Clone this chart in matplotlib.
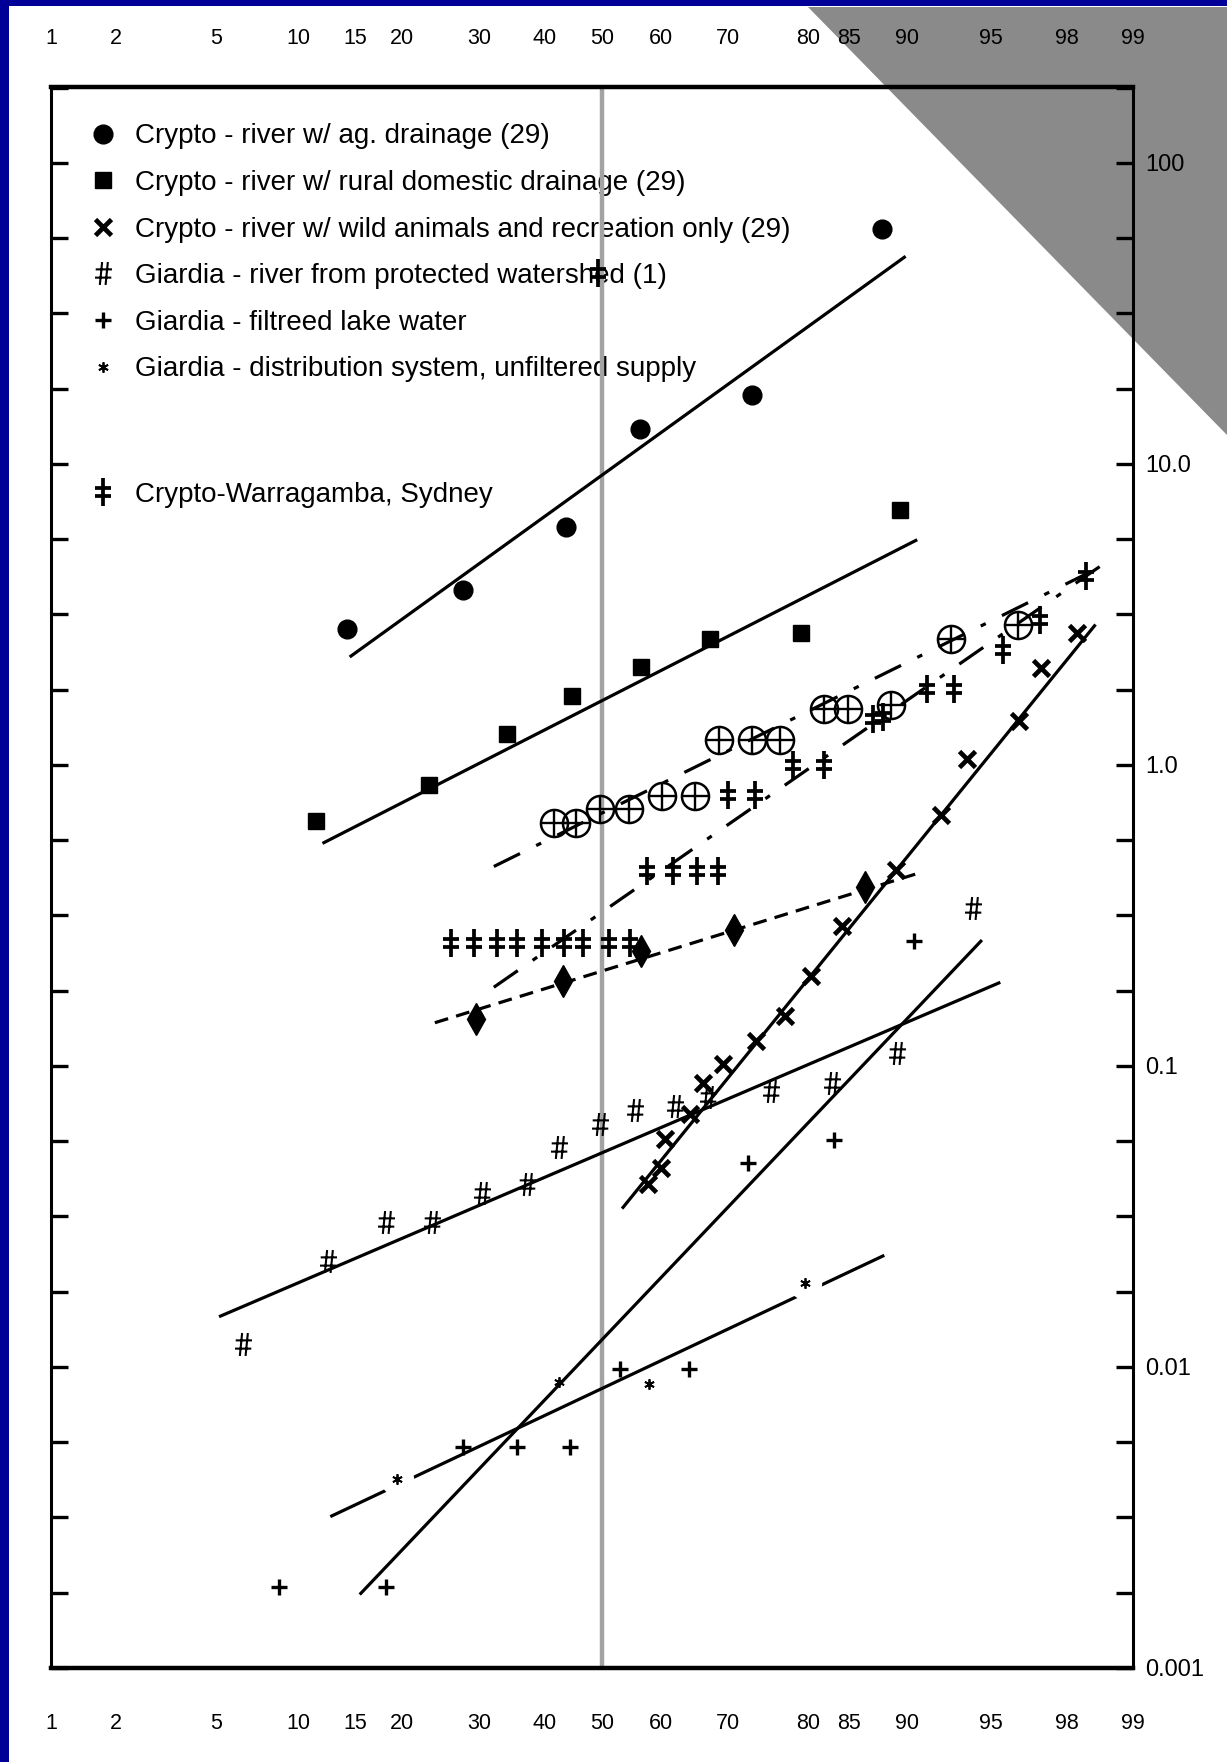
import numpy as np
import matplotlib
matplotlib.use("Agg")
import matplotlib.pyplot as plt
from matplotlib.path import Path
from matplotlib.patches import Polygon, Rectangle
from matplotlib.lines import Line2D
from statistics import NormalDist

plt.rcParams['font.family'] = ['Liberation Sans', 'DejaVu Sans']
plt.rcParams['lines.scale_dashes'] = False

# ------------------------------------------------------------------ data
# x = cumulative probability (%), y = concentration (organisms / L)
crypto_ag_p = [14.2, 27.7, 43.7, 56.4, 73.2, 88.0]
crypto_ag_v = [2.83, 3.82, 6.18, 13.1, 17.0, 60.3]
crypto_ag_fit_p = [14.6, 89.8]
crypto_ag_fit_v = [2.30, 48.6]

crypto_rural_p = [11.4, 23.3, 34.1, 44.7, 56.6, 67.4, 79.2, 89.5]
crypto_rural_v = [0.650, 0.855, 1.27, 1.70, 2.11, 2.62, 2.75, 7.03]
crypto_rural_fit_p = [12.1, 90.65]
crypto_rural_fit_v = [0.552, 5.57]

crypto_wild_p = [57.9, 60.0, 60.6, 64.5, 66.4, 69.35, 73.8, 77.3, 80.4, 84.25,
                 89.16, 92.32, 93.86, 96.36, 97.23, 98.19]
crypto_wild_v = [0.0404, 0.0459, 0.0573, 0.0693, 0.0878, 0.1014, 0.1207, 0.146,
                 0.1986, 0.2915, 0.448, 0.682, 1.048, 1.402, 2.10, 2.74]
crypto_wild_fit_p = [53.6, 98.49]
crypto_wild_fit_v = [0.0339, 2.90]

giardia_river_p = [6.38, 12.43, 18.24, 23.68, 30.49, 37.18, 42.35, 49.6, 55.6,
                   62.2, 67.1, 75.6, 83.08, 89.25, 94.15]
giardia_river_v = [0.0119, 0.02245, 0.0303, 0.0303, 0.0379, 0.0404, 0.0537, 0.0640,
                   0.0714, 0.0738, 0.0786, 0.0824, 0.0878, 0.1104, 0.3355]
giardia_river_fit_p = [5.21, 95.42]
giardia_river_fit_v = [0.01476, 0.1887]

giardia_lake_p = [8.62, 18.24, 27.75, 35.58, 44.41, 53.04, 64.35, 72.69, 83.31, 90.49]
giardia_lake_v = [0.00186, 0.00186, 0.00541, 0.00541, 0.00541, 0.00983, 0.00983,
                  0.0476, 0.0569, 0.2593]
giardia_lake_fit_p = [15.57, 94.53]
giardia_lake_fit_v = [0.00177, 0.2597]

giardia_dist_p = [19.38, 42.43, 58.07, 79.69]
giardia_dist_v = [0.00424, 0.00894, 0.00880, 0.01897]
giardia_dist_on_fit = [True, False, False, True]
giardia_dist_fit_p = [12.79, 88.09]
giardia_dist_fit_v = [0.0032, 0.02337]

diamond_p = [29.63, 43.15, 56.7, 70.83, 86.5]
diamond_v = [0.1432, 0.1921, 0.2411, 0.2819, 0.3923]
diamond_fit_p = [24.0, 90.84]
diamond_fit_v = [0.1392, 0.4369]

oplus_p = [41.59, 45.33, 49.58, 54.65, 60.19, 65.19, 68.79, 73.23, 76.76, 82.12,
           84.86, 88.8, 92.94, 96.31]
oplus_v = [0.6395, 0.6395, 0.7115, 0.7115, 0.7896, 0.7896, 1.214, 1.214, 1.214,
           1.539, 1.539, 1.580, 2.62, 2.924]
oplus_fit_p = [32.15, 98.67]
oplus_fit_v = [0.4599, 4.655]

warragamba_p = [26.16, 29.25, 32.68, 35.65, 39.56, 43.36, 46.68, 51.21, 54.8,
                57.67, 61.93, 65.51, 68.58, 70.05, 73.63, 78.33, 82.01, 87.22,
                88.07, 91.45, 93.13, 95.65, 97.18, 98.35, 49.28]
warragamba_v = [0.257, 0.257, 0.257, 0.257, 0.257, 0.257, 0.257, 0.257, 0.257,
                0.445, 0.445, 0.445, 0.445, 0.793, 0.793, 1.001, 1.001, 1.420,
                1.448, 1.783, 1.783, 2.417, 3.035, 4.233, 42.97]
warragamba_fit_p = [32.15, 98.67]
warragamba_fit_v = [0.1826, 4.73]

legend_labels = ["Crypto - river w/ ag. drainage (29)",
                 "Crypto - river w/ rural domestic drainage (29)",
                 "Crypto - river w/ wild animals and recreation only (29)",
                 "Giardia - river from protected watershed (1)",
                 "Giardia - filtreed lake water",
                 "Giardia - distribution system, unfiltered supply"]
legend_label_sydney = "Crypto-Warragamba, Sydney"

x_tick_vals = [1, 2, 5, 10, 15, 20, 30, 40, 50, 60, 70, 80, 85, 90, 95, 98, 99]
x_tick_labels = [str(v) for v in x_tick_vals]
y_tick_vals = [0.001, 0.01, 0.1, 1.0, 10.0, 100.0]
y_tick_labels = ["0.001", "0.01", "0.1", "1.0", "10.0", "100"]

# ------------------------------------------------- probability-paper scale
# relative tick positions of the printed probability paper (calibration)
paper_pos = np.array([51, 116, 216, 298, 355, 402, 479, 545, 602, 661, 728,
                      808, 849, 907, 991, 1067, 1133], float)
_nd = NormalDist()
Z_T = np.array([_nd.inv_cdf(v / 100.0) for v in x_tick_vals])
U_T = (paper_pos - paper_pos[0]) / (paper_pos[-1] - paper_pos[0])
S0 = (U_T[1] - U_T[0]) / (Z_T[1] - Z_T[0])
S1 = (U_T[-1] - U_T[-2]) / (Z_T[-1] - Z_T[-2])
_ppf = np.vectorize(_nd.inv_cdf, otypes=[float])
_cdf = np.vectorize(_nd.cdf, otypes=[float])


def prob_fwd(p):
    p = np.clip(np.asarray(p, float) / 100.0, 1e-12, 1 - 1e-12)
    z = _ppf(p)
    u = np.interp(z, Z_T, U_T)
    u = np.where(z < Z_T[0], U_T[0] + (z - Z_T[0]) * S0, u)
    u = np.where(z > Z_T[-1], U_T[-1] + (z - Z_T[-1]) * S1, u)
    return u


def prob_inv(u):
    u = np.asarray(u, float)
    z = np.interp(u, U_T, Z_T)
    z = np.where(u < U_T[0], Z_T[0] + (u - U_T[0]) / S0, z)
    z = np.where(u > U_T[-1], Z_T[-1] + (u - U_T[-1]) / S1, z)
    return 100.0 * _cdf(z)


# ------------------------------------------------------------ markers
MV, LT = Path.MOVETO, Path.LINETO
DDAG = Path([(0, -1), (0, 1), (-0.6, 0.28), (0.6, 0.28), (-0.6, -0.28), (0.6, -0.28)],
            [MV, LT, MV, LT, MV, LT])
HASH = Path([(-0.32, -1), (-0.12, 1), (0.18, -1), (0.38, 1),
             (-0.68, 0.36), (0.74, 0.36), (-0.74, -0.36), (0.68, -0.36)],
            [MV, LT, MV, LT, MV, LT, MV, LT])

st_circle = dict(ls='none', marker='o', ms=13.5, color='k')
st_square = dict(ls='none', marker='s', ms=11.0, color='k')
st_x = dict(ls='none', marker='x', ms=11.0, mew=3.4, color='k')
st_hash = dict(ls='none', marker=HASH, ms=16.5, mew=1.5, mfc='none', mec='k')
st_plus = dict(ls='none', marker='+', ms=12, mew=2.4, color='k')
st_star = dict(ls='none', marker=(6, 2, 0), ms=7.5, mew=1.3, color='k')
st_ddag = dict(ls='none', marker=DDAG, ms=20, mew=2.7, mfc='none', mec='k')
st_diam = dict(ls='none', marker='d', ms=16, color='k')

# ------------------------------------------------------------ figure
W, H = 1227, 1762
fig = plt.figure(figsize=(W / 100, H / 100), dpi=100)
fig.patch.set_facecolor('white')
fig.add_artist(Polygon([[808 / W, 1 - 7 / H], [1, 1 - 7 / H], [1, 1 - 435 / H]],
                       closed=True, transform=fig.transFigure,
                       facecolor='#8a8a8a', edgecolor='none', zorder=-5))
fig.add_artist(Rectangle((0, 0), 9 / W, 1, transform=fig.transFigure,
                         facecolor='#000099', edgecolor='none', zorder=-4))
fig.add_artist(Rectangle((0, 1 - 6 / H), 1, 6 / H, transform=fig.transFigure,
                         facecolor='#000099', edgecolor='none', zorder=-4))

ax = fig.add_axes([51 / W, 1 - 1668 / H, (1133 - 51) / W, (1668 - 86.8) / H])
ax.set_facecolor('none')
ax.set_xscale('function', functions=(prob_fwd, prob_inv))
ax.set_yscale('log')
ax.set_xlim(1, 99)
ax.set_ylim(0.001, 179)

# 50 % reference line
ax.axvline(50, color='#a3a3a3', lw=3.2, zorder=2)

LW = 2.3
fit_kw = dict(color='k', lw=LW, zorder=3)
ax.plot(crypto_ag_fit_p, crypto_ag_fit_v, **fit_kw)
ax.plot(crypto_rural_fit_p, crypto_rural_fit_v, **fit_kw)
ax.plot(crypto_wild_fit_p, crypto_wild_fit_v, **fit_kw)
ax.plot(giardia_river_fit_p, giardia_river_fit_v, **fit_kw)
ax.plot(giardia_lake_fit_p, giardia_lake_fit_v, **fit_kw)
ax.plot(giardia_dist_fit_p, giardia_dist_fit_v, **fit_kw)
ax.plot(diamond_fit_p, diamond_fit_v, color='k', lw=LW, zorder=3, dashes=(10, 6))
ax.plot(oplus_fit_p, oplus_fit_v, color='k', lw=LW, zorder=3, dashes=(21, 13, 4, 13))
ax.plot(warragamba_fit_p, warragamba_fit_v, color='k', lw=LW, zorder=3,
        dashes=(21, 13, 4, 13), dash_capstyle='butt')

mk = dict(zorder=5)
ax.plot(crypto_ag_p, crypto_ag_v, **st_circle, **mk)
ax.plot(crypto_rural_p, crypto_rural_v, **st_square, **mk)
ax.plot(crypto_wild_p, crypto_wild_v, **st_x, **mk)
ax.plot(giardia_river_p, giardia_river_v, **st_hash, **mk)
ax.plot(giardia_lake_p, giardia_lake_v, **st_plus, **mk)
# white gaps in the fit line where a '*' sits on it
halo_p = [p for p, f in zip(giardia_dist_p, giardia_dist_on_fit) if f]
halo_v = [v for v, f in zip(giardia_dist_v, giardia_dist_on_fit) if f]
ax.plot(halo_p, halo_v, ls='none', marker='o', ms=24, mfc='white', mec='none', zorder=4)
ax.plot(giardia_dist_p, giardia_dist_v, **st_star, **mk)
ax.plot(diamond_p, diamond_v, **st_diam, **mk)
ax.plot(oplus_p, oplus_v, ls='none', marker='o', ms=19.5, mfc='none', mec='k', mew=1.8, zorder=5)
ax.plot(oplus_p, oplus_v, ls='none', marker='+', ms=19.5, mew=1.7, color='k', zorder=5)
ax.plot(warragamba_p, warragamba_v, **st_ddag, **mk)

# ------------------------------------------------------------ axes styling
for side in ['top', 'bottom']:
    ax.spines[side].set_linewidth(3.2)
for side in ['left', 'right']:
    ax.spines[side].set_linewidth(2.2)
for s in ax.spines.values():
    s.set_zorder(6)

xfont = ['Liberation Sans Narrow', 'Liberation Sans']
ax.set_xticks(x_tick_vals)
ax.set_xticklabels(x_tick_labels)
ax.set_xticks([v for v in x_tick_vals if v not in (1, 50, 99)], minor=True)
ax.tick_params(axis='x', which='major', length=0, top=False, bottom=True,
               labeltop=False, labelbottom=True, pad=32.5, labelsize=15.5,
               labelfontfamily=xfont)
ax.tick_params(axis='x', which='minor', length=13, width=2.0, direction='in',
               top=True, bottom=True)

# top probability labels (same probability scale, own padding)
ax_top = ax.twiny()
ax_top.set_xscale('function', functions=(prob_fwd, prob_inv))
ax_top.set_xlim(ax.get_xlim())
ax_top.set_xticks(x_tick_vals)
ax_top.set_xticklabels(x_tick_labels)
ax_top.tick_params(axis='x', which='both', length=0, top=True, bottom=False,
                   labeltop=True, labelbottom=False, pad=27, labelsize=15.5,
                   labelfontfamily=xfont)
ax_top.xaxis.set_minor_locator(matplotlib.ticker.NullLocator())
for s in ax_top.spines.values():
    s.set_visible(False)
ax_top.set_facecolor('none')

ax.set_yticks(y_tick_vals)
ax.set_yticklabels(y_tick_labels)
quarter = [10 ** (k / 4) for k in range(-12, 10) if k % 4 != 0]
ax.set_yticks(quarter, minor=True)
ax.yaxis.set_minor_formatter(matplotlib.ticker.NullFormatter())
ax.tick_params(axis='y', which='both', direction='in', left=True, right=True,
               labelleft=False, labelright=True, length=12, width=2.4,
               pad=9, labelsize=17)

# ------------------------------------------------------------ legend
handles = [Line2D([], [], **st_circle), Line2D([], [], **st_square),
           Line2D([], [], **st_x), Line2D([], [], **st_hash),
           Line2D([], [], **st_plus), Line2D([], [], **st_star)]
leg_kw = dict(frameon=False, handlelength=1.0, handletextpad=0.65,
              labelspacing=0.74, borderpad=0, borderaxespad=0,
              prop={'family': 'Liberation Sans', 'size': 20}, loc='upper left')
leg1 = ax.legend(handles, legend_labels, bbox_to_anchor=(0.0352, 0.9768), **leg_kw)
leg1.set_zorder(1)
ax.add_artist(leg1)
leg2 = ax.legend([Line2D([], [], **st_ddag)], [legend_label_sydney],
                 bbox_to_anchor=(0.0352, 0.7503), **leg_kw)
leg2.set_zorder(1)

fig.savefig('out.png', dpi=100, facecolor='white')
